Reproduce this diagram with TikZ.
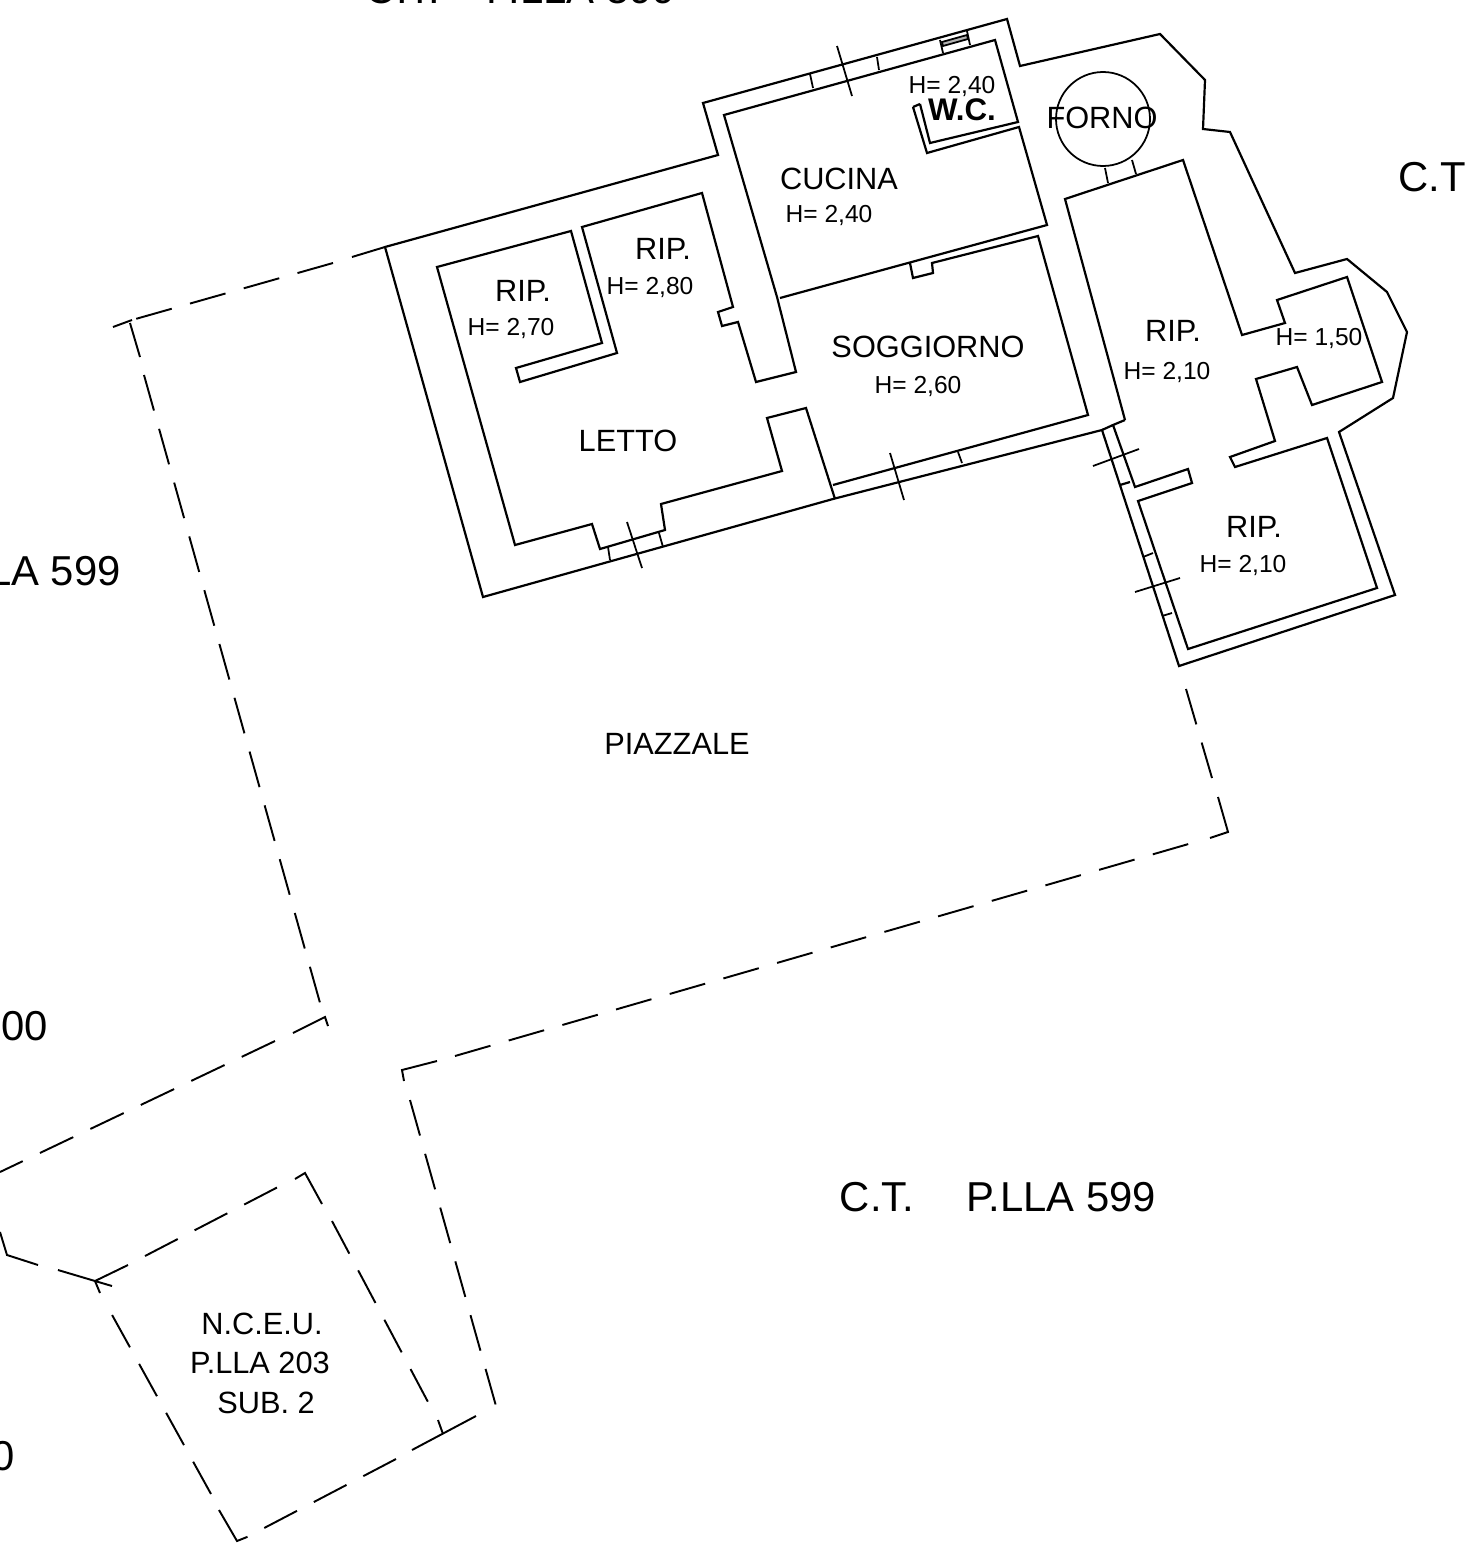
\documentclass[tikz,border=0pt]{standalone}
\usepackage{fontspec}
\setmainfont{Liberation Sans}
\begin{document}
\begin{tikzpicture}[
    x=0.02cm,
    y=-0.02cm,
    wall/.style={line width=1.25pt, black, line join=miter},
    thin wall/.style={line width=1pt, black},
    boundary/.style={line width=1.1pt, black, dash pattern=on 21pt off 10.8pt},
    corner/.style={line width=1.1pt, black},
    room/.style={font=\fontsize{17.5pt}{20pt}\selectfont, inner sep=0pt, text=black},
    height/.style={font=\fontsize{14pt}{17pt}\selectfont, inner sep=0pt, text=black},
    parcel/.style={font=\fontsize{23.8pt}{27pt}\selectfont, inner sep=0pt, text=black}
]
    \useasboundingbox (0,0) rectangle (1464,1551);

    % === OUTER WALLS ===
    \draw[wall] (385,247) -- (718,155) -- (703,103) -- (1007,19) -- (1020,66) -- (1160,34)
        -- (1205,80) -- (1203,129) -- (1230,132) -- (1295,273) -- (1347,259) -- (1387,292)
        -- (1407,332) -- (1393,398) -- (1339,432) -- (1395,595) -- (1179,666) -- (1102,430)
        -- (833,499) -- (483,597) -- cycle;

    % === CUCINA AND W.C. ===
    \draw[wall] (920,104) -- (930,143) -- (1018,122) -- (995,40) -- (724,115) -- (777,297) -- (796,372)
        -- (756,382) -- (738,322) -- (722,326) -- (718,312) -- (733,307) -- (702,193) -- (582,227)
        -- (617,353) -- (520,382) -- (516,368) -- (602,343) -- (571,231) -- (437,267) -- (515,545)
        -- (592,524) -- (600,549) -- (665,530) -- (661,504) -- (782,471) -- (767,418) -- (806,408)
        -- (835,499);
    \draw[wall] (913,107) -- (920,104);
    \draw[wall] (913,107) -- (927,153) -- (1019,127) -- (1047,225) -- (780,298);

    % === SOGGIORNO ===
    \draw[wall] (833,485) -- (1088,415) -- (1038,236) -- (932,263) -- (933,273) -- (913,278) -- (910,263);

    % === FORNO AND STORES ===
    \draw[thin wall] (1103,119) circle (47);
    \draw[thin wall] (1105,168) -- (1108,183);
    \draw[thin wall] (1132,160) -- (1136,174);
    \draw[wall] (1125,420) -- (1065,199) -- (1183,160) -- (1242,335) -- (1285,323) -- (1277,300)
        -- (1347,277) -- (1382,382) -- (1312,405) -- (1297,367) -- (1256,379) -- (1275,441)
        -- (1230,457) -- (1235,467) -- (1327,438) -- (1377,588) -- (1188,649) -- (1138,501)
        -- (1192,483) -- (1188,469) -- (1135,487) -- (1113,425) -- (1125,420);
    \draw[wall] (1102,430) -- (1113,425);
    \draw[wall] (1120,485) -- (1130,482);

    % === WINDOWS ===
    \draw[thin wall] (810,74) -- (813,88);
    \draw[thin wall] (877,57) -- (879,70);
    \draw[thin wall] (837,46) -- (852,96);
    \draw[thin wall] (940,40) -- (943,53);
    \draw[thin wall] (967,31) -- (970,45);
    \draw[thin wall, fill=gray!60] (942,42) -- (967,35) -- (968,39) -- (943,46) -- cycle;
    \draw[thin wall] (958,452) -- (962,463);
    \draw[thin wall] (890,453) -- (904,500);
    \draw[thin wall] (608,547) -- (610,560);
    \draw[thin wall] (659,533) -- (663,547);
    \draw[thin wall] (627,522) -- (642,568);
    \draw[thin wall] (1093,466) -- (1139,449);
    \draw[thin wall] (1135,592) -- (1180,578);
    \draw[thin wall] (1143,557) -- (1153,553);
    \draw[thin wall] (1162,616) -- (1172,613);

    % === BOUNDARIES ===
    \draw[corner] (352,257) -- (385,247);
    \draw[boundary] (333,263) -- (132,320);
    \draw[corner] (132,320) -- (113,327);
    \draw[corner] (130,323) -- (140,357);
    \draw[boundary] (144,375) -- (322,1010);
    \draw[corner] (328,1026) -- (325,1017) -- (293,1033);
    \draw[boundary] (275,1041) -- (0,1172);
    \draw[corner] (404,1081) -- (402,1070) -- (437,1061);
    \draw[boundary] (455,1056) -- (1192,843);
    \draw[corner] (1210,838) -- (1228,832) -- (1218,797);
    \draw[boundary] (1212,778) -- (1186,689);
    \draw[boundary] (410,1100) -- (496,1406);
    \draw[corner] (412,1450) -- (476,1416);
    \draw[boundary] (396,1459) -- (247,1537);
    \draw[corner] (247,1537) -- (237,1541) -- (219,1510);
    \draw[boundary] (211,1494) -- (111,1313);
    \draw[corner] (100,1293) -- (95,1281) -- (128,1265);
    \draw[corner] (95,1281) -- (112,1286);
    \draw[boundary] (145,1256) -- (278,1187);
    \draw[corner] (295,1179) -- (305,1173) -- (322,1204);
    \draw[boundary] (332,1221) -- (428,1402);
    \draw[corner] (438,1420) -- (443,1434);
    \draw[corner] (0,1232) -- (7,1255) -- (38,1265);
    \draw[corner] (58,1270) -- (95,1281);

    % === ROOM LABELS ===
    \node[height] (wch) at (952,86) {H= 2,40};
    \node[room, font=\fontsize{17.8pt}{20pt}\selectfont\bfseries] (wc) at (962,110) {W.C.};
    \node[room] (forno) at (1102,118) {FORNO};
    \node[room] (cucina) at (839,179) {CUCINA};
    \node[height] (cucinah) at (829,215) {H= 2,40};
    \node[room] (rip1) at (663,249) {RIP.};
    \node[height] (rip1h) at (650,287) {H= 2,80};
    \node[room] (rip2) at (523,291) {RIP.};
    \node[height] (rip2h) at (511,328) {H= 2,70};
    \node[room] (letto) at (628,441) {LETTO};
    \node[room] (soggiorno) at (928,347) {SOGGIORNO};
    \node[height] (soggiornoh) at (918,386) {H= 2,60};
    \node[room] (rip3) at (1173,331) {RIP.};
    \node[height] (rip3h) at (1167,372) {H= 2,10};
    \node[height] (rip4h) at (1319,338) {H= 1,50};
    \node[room] (rip5) at (1254,527) {RIP.};
    \node[height] (rip5h) at (1243,565) {H= 2,10};
    \node[room] (piazzale) at (677,744) {PIAZZALE};
    \node[room] (nceu) at (262,1324) {N.C.E.U.};
    \node[room] (plla) at (260,1363) {P.LLA 203};
    \node[room] (sub) at (266,1403) {SUB. 2};

    % === PARCEL LABELS ===
    \node[parcel] (ctmain) at (877,1197) {C.T.};
    \node[parcel] (pllamain) at (1061,1197) {P.LLA 599};
    \node[parcel, anchor=west] (ctright) at (1398,177) {C.T};
    \node[parcel, anchor=east] (pllaleft) at (121,571) {LA 599};
    \node[parcel, anchor=east] (pllalow) at (48,1026) {600};
    \node[parcel, anchor=east] (pllabottom) at (15,1456) {0};
    \node[parcel, anchor=base] (cttop) at (403,4) {C.T.};
    \node[parcel, anchor=base] (pllatop) at (581,4) {P.LLA 599};
\end{tikzpicture}
\end{document}
